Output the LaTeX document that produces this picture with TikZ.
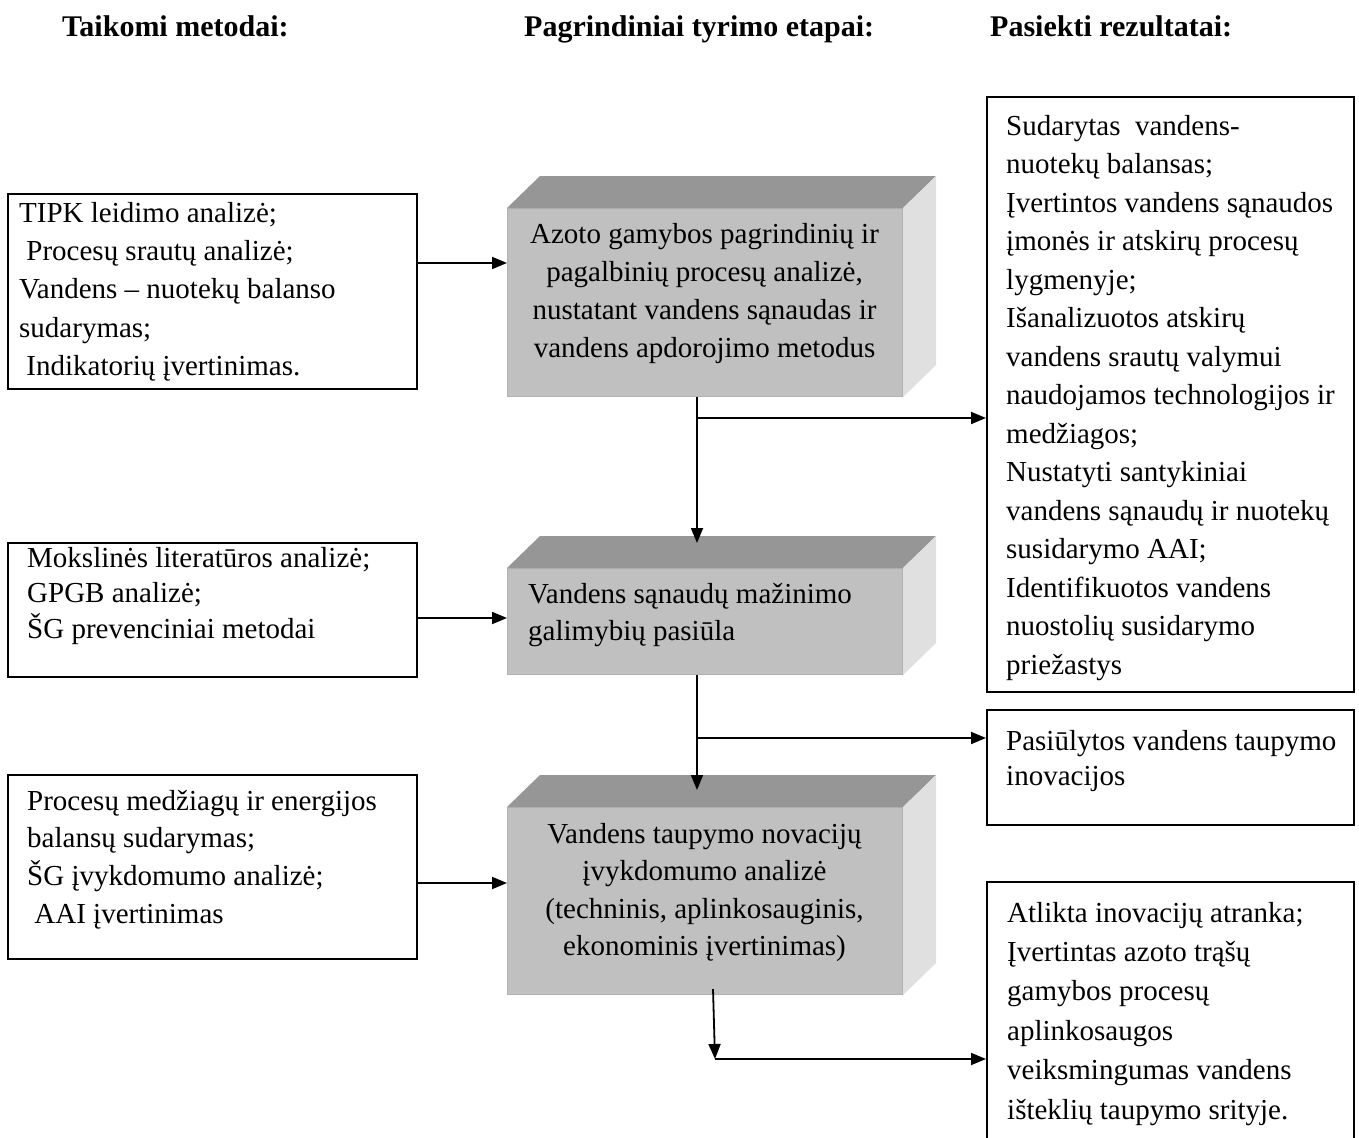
\documentclass[tikz,border=0pt]{standalone}
\usepackage{fontspec}
\setmainfont{Liberation Serif}
\usetikzlibrary{arrows.meta,calc}

% body text: 29pt with a per-box line pitch
\newcommand\bodysize[1]{\fontsize{29}{#1}\selectfont}
\definecolor{facefront}{HTML}{C0C0C0}
\definecolor{facetop}{HTML}{969696}
\definecolor{faceside}{HTML}{E0E0E0}
\definecolor{faceedge}{HTML}{B2B2B2}

% top and right faces of a stage block, drawn behind its front face
\newcommand\stagesides[1]{%
  \fill[facetop] (#1.north west) -- ++(33,-32) -- ($(#1.north east)+(33,-32)$) -- (#1.north east) -- cycle;
  \fill[faceside] (#1.north east) -- ++(33,-32) -- ($(#1.south east)+(33,-32)$) -- (#1.south east) -- cycle;
}

\begin{document}
\begin{tikzpicture}[x=1pt,y=-1pt,
  listbox/.style={draw=black, line width=1.8pt, anchor=north west, inner sep=0pt},
  stagefront/.style={fill=facefront, draw=faceedge, line width=1pt, anchor=north west, inner sep=0pt,
    minimum width=395pt},
  txt/.style={anchor=north west, inner sep=0pt, align=left},
  ctxt/.style={anchor=north, inner sep=0pt, align=center},
  head/.style={anchor=base west, inner sep=0pt, font=\fontsize{30}{36}\selectfont\bfseries},
  conn/.style={line width=1.8pt},
  arr/.style={conn, -{Triangle[length=15pt,width=12pt]}},
]
\useasboundingbox (0,0) rectangle (1359,1137);
\fill[white] (0,0) rectangle (1359,1137);

% column headings
\node[head] (h1) at (62,37) {Taikomi metodai:};
\node[head] (h2) at (524,37) {Pagrindiniai tyrimo etapai:};
\node[head] (h3) at (990,37) {Pasiekti rezultatai:};

% methods (left column)
\node[listbox, minimum width=409pt, minimum height=195pt] (L1) at (7,193) {};
\node[txt, font=\bodysize{38.3}] (L1t) at (19,195.2)
  {\strut TIPK leidimo analizė;\\
   \ Procesų srautų analizė;\\
   Vandens – nuotekų balanso\\
   sudarymas;\\
   \ Indikatorių įvertinimas.};

\node[listbox, minimum width=409pt, minimum height=134pt] (L2) at (7,542) {};
\node[txt, font=\bodysize{35.5}] (L2t) at (27,542.2)
  {\strut Mokslinės literatūros analizė;\\
   GPGB analizė;\\
   ŠG prevenciniai metodai};

\node[listbox, minimum width=409pt, minimum height=184pt] (L3) at (7,774) {};
\node[txt, font=\bodysize{37.6}] (L3t) at (27,783.7)
  {\strut Procesų medžiagų ir energijos\\
   balansų sudarymas;\\
   ŠG įvykdomumo analizė;\\
   \ AAI įvertinimas};

% research stages (middle column)
\node[stagefront, minimum height=188pt] (S1) at (507,208) {};
\stagesides{S1}
\node[ctxt, font=\bodysize{38}] (S1t) at (704.5,216.4)
  {\strut Azoto gamybos pagrindinių ir\\
   pagalbinių procesų analizė,\\
   nustatant vandens sąnaudas ir\\
   vandens apdorojimo metodus};

\node[stagefront, minimum height=106pt] (S2) at (507,568) {};
\stagesides{S2}
\node[txt, font=\bodysize{37}] (S2t) at (528,577.1)
  {\strut Vandens sąnaudų mažinimo\\
   galimybių pasiūla};

\node[stagefront, minimum height=187pt] (S3) at (507,807) {};
\stagesides{S3}
\node[ctxt, font=\bodysize{37.5}] (S3t) at (704.5,816.75)
  {\strut Vandens taupymo novacijų\\
   įvykdomumo analizė\\
   (techninis, aplinkosauginis,\\
   ekonominis įvertinimas)};

% results (right column)
\node[listbox, minimum width=367pt, minimum height=595pt] (R1) at (986,96) {};
\node[txt, font=\bodysize{38.5}] (R1t) at (1006,108)
  {\strut Sudarytas\ \ vandens-\\
   nuotekų balansas;\\
   Įvertintos vandens sąnaudos\\
   įmonės ir atskirų procesų\\
   lygmenyje;\\
   Išanalizuotos atskirų\\
   vandens srautų valymui\\
   naudojamos technologijos ir\\
   medžiagos;\\
   Nustatyti santykiniai\\
   vandens sąnaudų ir nuotekų\\
   susidarymo AAI;\\
   Identifikuotos vandens\\
   nuostolių susidarymo\\
   priežastys};

\node[listbox, minimum width=367pt, minimum height=115pt] (R2) at (986,709) {};
\node[txt, font=\bodysize{35}] (R2t) at (1006,725.5)
  {\strut Pasiūlytos vandens taupymo\\
   inovacijos};

\node[listbox, minimum width=367pt, minimum height=269pt] (R3) at (986,881) {};
\node[txt, font=\bodysize{39.4}] (R3t) at (1007,894.4)
  {\strut Atlikta inovacijų atranka;\\
   Įvertintas azoto trąšų\\
   gamybos procesų\\
   aplinkosaugos\\
   veiksmingumas vandens\\
   išteklių taupymo srityje.};

% connector levels
\coordinate (spine) at (697,0);
\coordinate (lv1) at (0,263);
\coordinate (lv2) at (0,618);
\coordinate (lv3) at (0,883);
\coordinate (rv1) at (0,418);
\coordinate (rv2) at (0,738);
\coordinate (tail) at (713,989);
\coordinate (turn) at (715,1059);

% methods feed the stages
\draw[arr] (L1.east |- lv1) -- (S1.west |- lv1);
\draw[arr] (L2.east |- lv2) -- (S2.west |- lv2);
\draw[arr] (L3.east |- lv3) -- (S3.west |- lv3);

% stage sequence with branches to the results
\draw[arr] (S1.south -| spine) -- ($(S2.north -| spine)+(0,-25)$);
\draw[arr] (rv1 -| spine) -- (R1.west |- rv1);
\draw[arr] (S2.south -| spine) -- ($(S3.north -| spine)+(0,-17)$);
\draw[arr] (rv2 -| spine) -- (R2.west |- rv2);
\draw[arr] (tail) -- (turn);
\draw[arr] (turn) -- (R3.west |- turn);
\end{tikzpicture}
\end{document}
